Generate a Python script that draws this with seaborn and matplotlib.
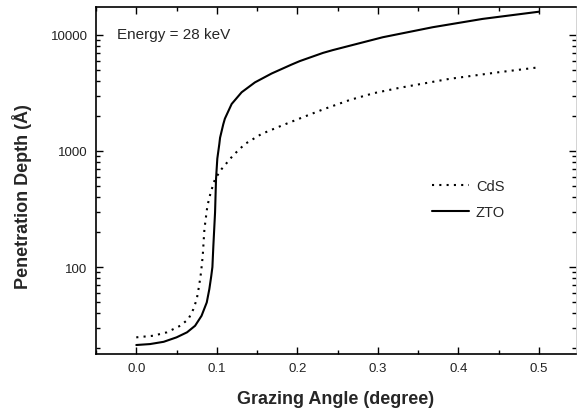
import matplotlib
matplotlib.use("Agg")
import matplotlib.pyplot as plt
import seaborn as sns
import pandas as pd
from matplotlib.ticker import MultipleLocator, LogLocator, NullFormatter, FixedLocator

# Values
zto_angle = [0.0, 0.017, 0.034, 0.050, 0.063, 0.073, 0.081, 0.0875, 0.0907,
             0.093, 0.0945, 0.0957, 0.0978, 0.099, 0.1006, 0.1031, 0.104, 0.108,
             0.110, 0.1184, 0.1308, 0.1473, 0.168, 0.1927, 0.203, 0.2318, 0.244,
             0.306, 0.368, 0.430, 0.5]
zto_depth = [21.3, 21.7, 22.7, 24.8, 27.4, 31.2, 38.0, 49.6, 64.6,
             83, 100, 153, 296, 574, 860, 1150, 1300, 1700,
             1900, 2541, 3206, 3900, 4650, 5550, 5950, 7000, 7400,
             9550, 11650, 13740, 15850]

cds_angle = [0.0, 0.021, 0.038, 0.0545, 0.0647, 0.0709, 0.0751, 0.078, 0.0804,
             0.0825, 0.0846, 0.0883, 0.0924, 0.0978, 0.106, 0.1204, 0.135,
             0.1556, 0.1803, 0.209, 0.2318, 0.265, 0.295, 0.3267, 0.3886,
             0.45, 0.5]
cds_depth = [24.8, 25.6, 27.4, 31.2, 35.6, 43.4, 53, 69, 90,
             125, 213, 337, 440, 574, 700, 920, 1150,
             1403, 1652, 1980, 2280, 2750, 3150, 3500, 4180,
             4770, 5260]

df = pd.concat([
    pd.DataFrame({"angle": cds_angle, "depth": cds_depth, "material": "CdS"}),
    pd.DataFrame({"angle": zto_angle, "depth": zto_depth, "material": "ZTO"}),
])

sns.set_style("ticks")
plt.rcParams["font.family"] = ["Liberation Sans", "DejaVu Sans"]

fig = plt.figure(figsize=(5.77, 4.10), dpi=100)
ax = fig.add_axes([0.1664, 0.134, 0.8320, 0.8465])

sns.lineplot(data=df, x="angle", y="depth", style="material",
             style_order=["CdS", "ZTO"],
             dashes={"CdS": (1, 2.5), "ZTO": ""},
             color="black", linewidth=1.5, ax=ax)

ax.set_yscale("log")
ax.set_xlim(-0.05, 0.546)
ax.set_ylim(17.8, 17400)

ax.xaxis.set_minor_locator(MultipleLocator(0.05))
ax.set_xticks([0.0, 0.1, 0.2, 0.3, 0.4, 0.5])
ax.set_xticklabels(["0.0", "0.1", "0.2", "0.3", "0.4", "0.5"])
ax.yaxis.set_major_locator(FixedLocator([100, 1000, 10000]))
ax.set_yticklabels(["100", "1000", "10000"])
ax.yaxis.set_minor_locator(LogLocator(base=10, subs=range(2, 10)))
ax.yaxis.set_minor_formatter(NullFormatter())

ax.tick_params(which="both", direction="in", top=True, right=True,
               labelsize=9.5, width=1, colors="black", labelcolor="#222222")
ax.tick_params(which="major", length=5, pad=6)
ax.tick_params(which="minor", length=3)

for side in ["left", "bottom", "top"]:
    ax.spines[side].set_linewidth(1.2)
    ax.spines[side].set_color("black")
ax.spines["right"].set_color("#cccccc")
ax.spines["right"].set_linewidth(0.6)

ax.set_xlabel("Grazing Angle (degree)", fontsize=13, fontweight="bold")
ax.set_ylabel("Penetration Depth (\u00c5)", fontsize=13, fontweight="bold")
ax.xaxis.set_label_coords(0.5, -0.103)
ax.yaxis.set_label_coords(-0.133, 0.458)

ax.text(0.044, 0.922, "Energy = 28 keV", transform=ax.transAxes,
        fontsize=11, va="center", ha="left")

ax.legend(loc="center left", bbox_to_anchor=(0.70, 0.447), frameon=False,
          fontsize=10.5, handlelength=2.5, handletextpad=0.5, labelspacing=0.8,
          borderpad=0, borderaxespad=0)

plt.savefig("out.png", dpi=100)
plt.close()
